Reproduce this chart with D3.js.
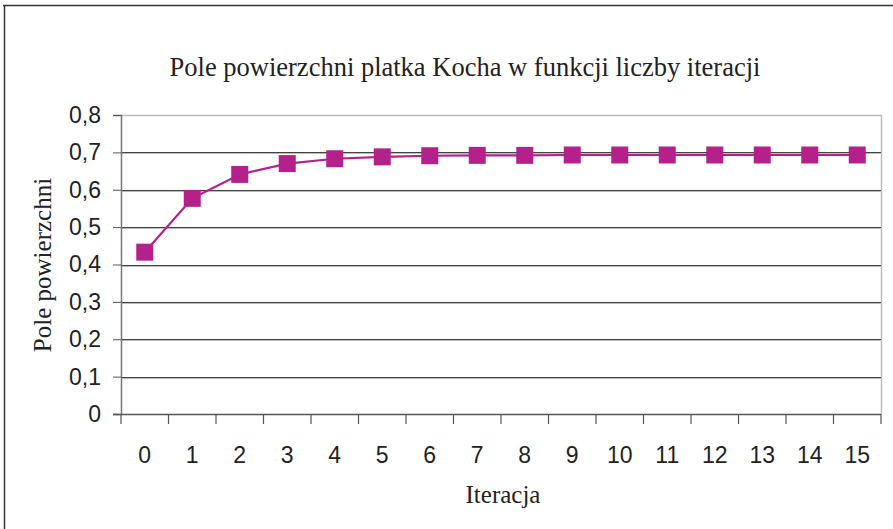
<!DOCTYPE html>
<html>
<head>
<meta charset="utf-8">
<script src="https://cdn.jsdelivr.net/npm/d3@7"></script>
<style>
  body { margin: 0; background: #fff; }
  svg { display: block; }
</style>
</head>
<body>
<div id="chart"></div>
<script>
const iterations = ["0","1","2","3","4","5","6","7","8","9","10","11","12","13","14","15"];
const areaValues = [0.433, 0.577, 0.641, 0.670, 0.683, 0.688, 0.691, 0.692, 0.692, 0.693, 0.693, 0.693, 0.693, 0.693, 0.693, 0.693];
const yTicks = [0, 0.1, 0.2, 0.3, 0.4, 0.5, 0.6, 0.7, 0.8];

const w = 893, h = 529;
const plotL = 121, plotR = 881, plotT = 115, plotB = 414;
const lineColor = "#b5218a";
const sans = "Liberation Sans, Arial, sans-serif";
const serif = "Liberation Serif, Times New Roman, serif";

const svg = d3.select("#chart").append("svg")
  .attr("width", w).attr("height", h);

// outer frame
svg.append("line").attr("x1", 3).attr("x2", w).attr("y1", 5.5).attr("y2", 5.5)
  .attr("stroke", "#333").attr("stroke-width", 1.5);
svg.append("line").attr("x1", 4.5).attr("x2", 4.5).attr("y1", 5).attr("y2", h)
  .attr("stroke", "#333").attr("stroke-width", 1.5);

const x = d3.scaleBand().domain(iterations).range([plotL, plotR]);
const y = d3.scaleLinear().domain([0, 0.8]).range([plotB, plotT]);

// plot area border (top & right, light gray)
svg.append("path")
  .attr("d", `M${plotL},${plotT + 0.5}H${plotR + 0.5}V${plotB}`)
  .attr("fill", "none").attr("stroke", "#bbb").attr("stroke-width", 1.5);

// gridlines
const grid = svg.append("g");
grid.selectAll("line.sh")
  .data(yTicks.filter(d => d > 0 && d < 0.8))
  .join("line").attr("class", "sh")
  .attr("x1", plotL).attr("x2", plotR)
  .attr("y1", d => Math.round(y(d)) + 1.5).attr("y2", d => Math.round(y(d)) + 1.5)
  .attr("stroke", "#bbb").attr("stroke-width", 1);
grid.selectAll("line.gl")
  .data(yTicks.filter(d => d > 0 && d < 0.8))
  .join("line").attr("class", "gl")
  .attr("x1", plotL).attr("x2", plotR)
  .attr("y1", d => Math.round(y(d)) + 0.5).attr("y2", d => Math.round(y(d)) + 0.5)
  .attr("stroke", "#444").attr("stroke-width", 1);

// y axis
const yAxis = d3.axisLeft(y).tickValues(yTicks).tickSize(8).tickPadding(12)
  .tickFormat(d => d === 0 ? "0" : d3.format(".1f")(d).replace(".", ","));
const gy = svg.append("g").attr("transform", `translate(${plotL},0)`).call(yAxis);
gy.select(".domain").attr("stroke", "#777").attr("stroke-width", 1.5);
gy.selectAll(".tick line").attr("stroke", "#555");
gy.selectAll("text").attr("font-family", sans)
  .attr("font-size", 23).attr("fill", "#222");

// x axis (ticks between categories)
const gx = svg.append("g").attr("transform", `translate(0,${plotB})`);
gx.append("line").attr("x1", plotL - 8).attr("x2", plotR).attr("y1", 0.5).attr("y2", 0.5)
  .attr("stroke", "#555").attr("stroke-width", 1.5);
gx.selectAll(".tk").data(iterations.concat(["end"])).join("line")
  .attr("class", "tk")
  .attr("x1", (d, i) => plotL + i * x.bandwidth()).attr("x2", (d, i) => plotL + i * x.bandwidth())
  .attr("y1", 0).attr("y2", 10)
  .attr("stroke", "#555").attr("stroke-width", 1.2);
gx.selectAll("text").data(iterations).join("text")
  .attr("x", d => x(d) + x.bandwidth() / 2)
  .attr("y", 49)
  .attr("text-anchor", "middle")
  .attr("font-family", sans)
  .attr("font-size", 23).attr("fill", "#222")
  .text(d => d);

// line + markers
const cx = d => x(d) + x.bandwidth() / 2;
svg.append("path")
  .datum(areaValues)
  .attr("d", d3.line().x((d, i) => cx(iterations[i])).y(d => y(d)))
  .attr("fill", "none").attr("stroke", lineColor).attr("stroke-width", 2.2);

svg.selectAll(".mk").data(areaValues).join("rect")
  .attr("class", "mk")
  .attr("x", (d, i) => cx(iterations[i]) - 8.5)
  .attr("y", d => y(d) - 8.5)
  .attr("width", 17).attr("height", 17)
  .attr("fill", lineColor);

// texts
svg.append("text")
  .attr("x", 465).attr("y", 76).attr("text-anchor", "middle")
  .attr("font-family", serif)
  .attr("font-size", 26.5).attr("fill", "#222")
  .text("Pole powierzchni platka Kocha w funkcji liczby iteracji");

svg.append("text")
  .attr("transform", "translate(51,265) rotate(-90)")
  .attr("text-anchor", "middle")
  .attr("font-family", serif)
  .attr("font-size", 25).attr("fill", "#222")
  .text("Pole powierzchni");

svg.append("text")
  .attr("x", 503).attr("y", 503).attr("text-anchor", "middle")
  .attr("font-family", serif)
  .attr("font-size", 25).attr("fill", "#222")
  .text("Iteracja");
</script>
</body>
</html>
